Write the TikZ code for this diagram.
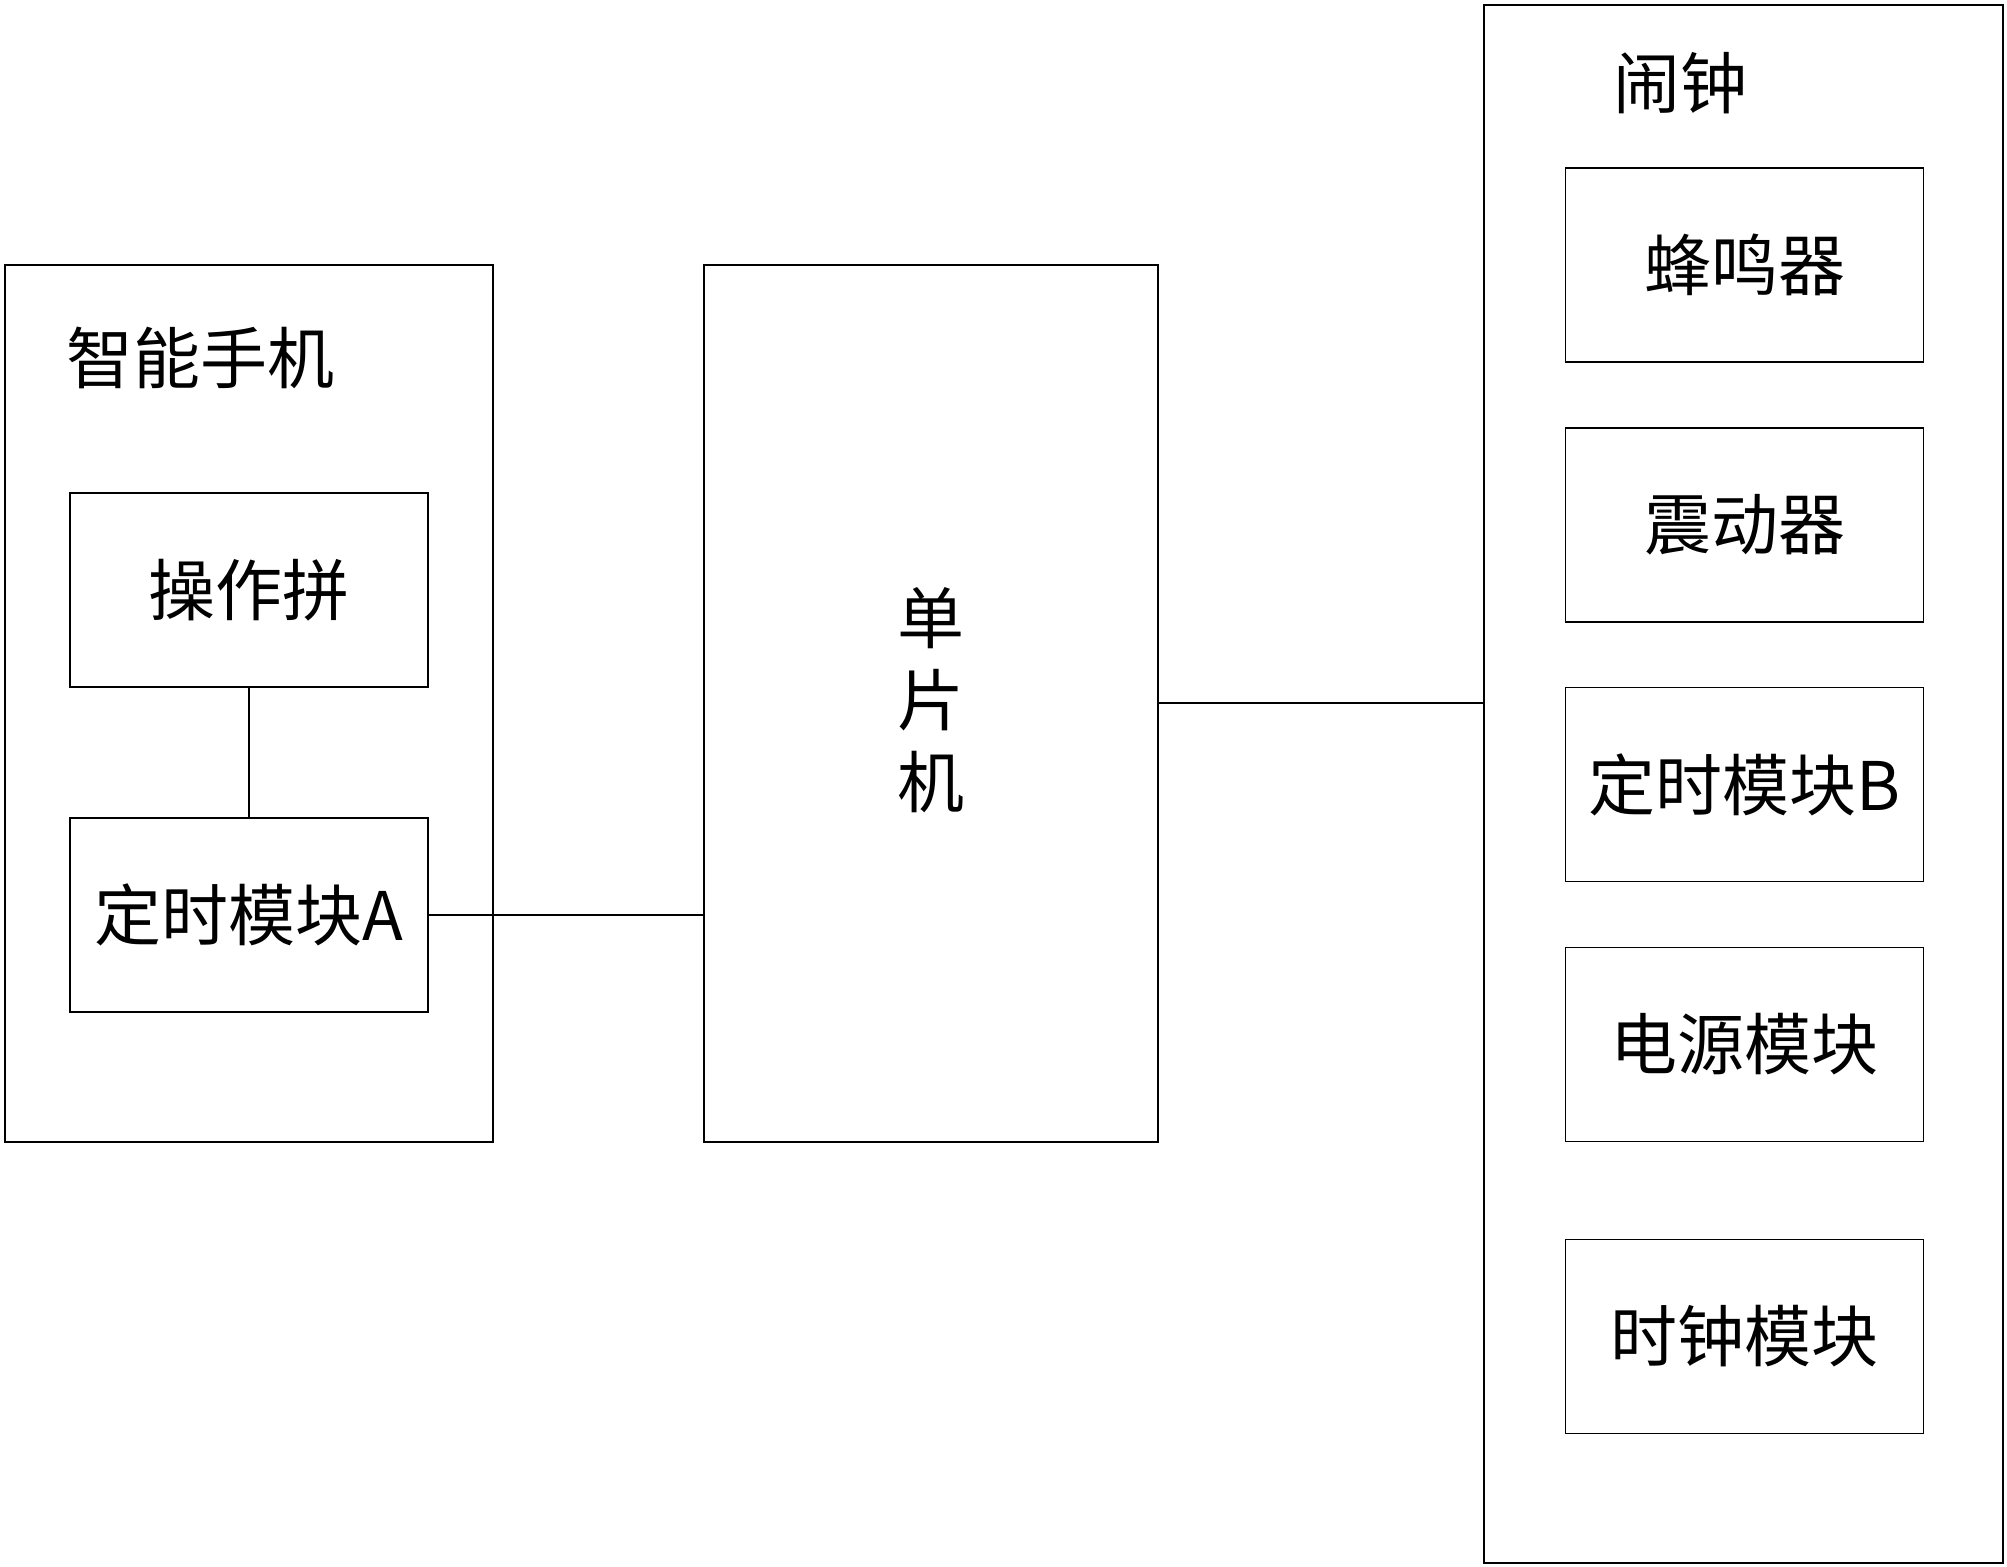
\documentclass[tikz,border=0pt]{standalone}
\usepackage{fontspec}
\newfontfamily\cjk{Noto Sans CJK SC}
\begin{document}
\begin{tikzpicture}[x=1pt,y=-1pt,
  box/.style={draw,line width=1.6pt,rectangle,inner sep=0pt},
  lbl/.style={inner sep=0pt,font=\cjk\fontsize{67}{82}\selectfont},
  wire/.style={line width=1.6pt}]
\useasboundingbox (0,0) rectangle (2007,1566);
% containers
\node[box,minimum width=488pt,minimum height=877pt] (phone) at (249,703.5) {};
\node[box,minimum width=454pt,minimum height=877pt] (mcu) at (931,703.5) {};
\node[box,minimum width=519pt,minimum height=1558pt] (alarm) at (1743.5,784) {};
% labels of containers
\node[lbl] (phonelbl) at (200,358) {智能手机};
\node[lbl] (alarmlbl) at (1680,83) {闹钟};
\node[lbl,align=center] (mculbl) at (931,700) {单\\片\\机};
% phone parts
\node[box,lbl,minimum width=358pt,minimum height=194pt] (ui) at (249,590) {操作拼};
\node[box,lbl,minimum width=358pt,minimum height=194pt] (timerA) at (249,915) {定时模块A};
% alarm parts
\node[box,lbl,minimum width=358pt,minimum height=194pt] (buzz) at (1744.5,265) {蜂鸣器};
\node[box,lbl,minimum width=358pt,minimum height=194pt] (vib) at (1744.5,525) {震动器};
\node[box,lbl,minimum width=358pt,minimum height=194pt] (timerB) at (1744.5,784.5) {定时模块B};
\node[box,lbl,minimum width=358pt,minimum height=194pt] (power) at (1744.5,1044.5) {电源模块};
\node[box,lbl,minimum width=358pt,minimum height=194pt] (clock) at (1744.5,1336.5) {时钟模块};
% connectors
\draw[wire] (ui.south) -- (timerA.north);
\draw[wire] (timerA.east) -- (timerA.east -| mcu.west);
\draw[wire] (mcu.east |- 0,703) -- (alarm.west |- 0,703);
\end{tikzpicture}
\end{document}
